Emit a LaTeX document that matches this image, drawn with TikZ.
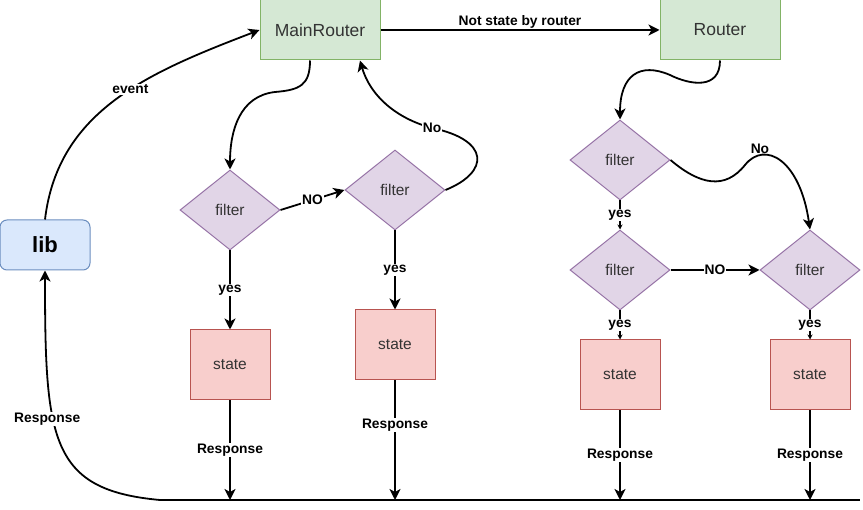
\documentclass[tikz,border=0pt]{standalone}
\usepackage{fontspec}
\setmainfont{Liberation Sans}
\usetikzlibrary{shapes.geometric,arrows.meta}

\definecolor{greenfill}{HTML}{D5E8D4}
\definecolor{greenline}{HTML}{82B366}
\definecolor{bluefill}{HTML}{DAE8FC}
\definecolor{blueline}{HTML}{6C8EBF}
\definecolor{purplefill}{HTML}{E1D5E7}
\definecolor{purpleline}{HTML}{9673A6}
\definecolor{redfill}{HTML}{F8CECC}
\definecolor{redline}{HTML}{B85450}
\definecolor{txtgray}{HTML}{333333}

\begin{document}
\begin{tikzpicture}[x=1pt, y=-1pt,
  router/.style={draw=greenline, fill=greenfill, line width=1pt, minimum width=120pt, minimum height=60pt, text=txtgray, font=\fontsize{17.5}{20}\selectfont},
  libbox/.style={draw=blueline, fill=bluefill, line width=1pt, rounded corners=7pt, minimum width=90pt, minimum height=50pt, font=\fontsize{22}{24}\selectfont\bfseries},
  filterbox/.style={diamond, draw=purpleline, fill=purplefill, line width=1pt, inner sep=0pt, minimum width=100pt, minimum height=80pt, text=txtgray, font=\fontsize{15.5}{18}\selectfont},
  statebox/.style={draw=redline, fill=redfill, line width=1pt, minimum width=80pt, minimum height=70pt, text=txtgray, font=\fontsize{15.5}{18}\selectfont},
  flow/.style={line width=1.8pt, -{Stealth[length=11pt, width=11pt, inset=3pt]}},
  tinyflow/.style={line width=1.8pt, -{Stealth[length=5pt, width=5pt]}},
  lbl/.style={font=\fontsize{13.8}{15}\selectfont\bfseries, fill=white, inner sep=1pt},
  lbltop/.style={lbl, fill=none, above}
]
\useasboundingbox (0,0) rectangle (863,510);

% Routers and lib
\node[router] (mainR) at (320,30) {MainRouter};
\node[router] (router) at (720,30) {Router};
\node[libbox] (lib) at (45,245) {lib};

% Filters
\node[filterbox] (fA) at (230,210) {filter};
\node[filterbox] (fB) at (395,190) {filter};
\node[filterbox] (fC) at (620,160) {filter};
\node[filterbox] (fD) at (620,270) {filter};
\node[filterbox] (fE) at (810,270) {filter};

% States
\node[statebox] (sA) at (230,365) {state};
\node[statebox] (sB) at (395,345) {state};
\node[statebox] (sC) at (620,375) {state};
\node[statebox] (sD) at (810,375) {state};

% Response bus
\coordinate (busL) at (160,500);
\coordinate (busR) at (860,500);
\draw[line width=1.8pt] (busL) -- (busR);

% lib in and out
\draw[flow] (lib.north) .. controls (58,110) and (150,72) .. (mainR.west) node[lbl, pos=0.56] {event};
\draw[flow] (busL) .. controls (50,490) and (45,440) .. (lib.south) node[lbl, pos=0.61, xshift=-6pt] {Response};

% MainRouter side
\draw[flow] ([xshift=-10pt]mainR.south) .. controls (310,85) and (300,90) .. (275,92) .. controls (240,96) and (230,130) .. (fA.north);
\draw[flow] (fA.east) -- (fB.west) node[lbl, midway] {NO};
\draw[flow] (fB.east) .. controls (490,172) and (490,140) .. (432,128) node[lbl] {No} .. controls (395,118) and (370,95) .. ([xshift=40pt]mainR.south);
\draw[flow] (fA.south) -- (sA.north) node[lbl, midway] {yes};
\draw[flow] (fB.south) -- (sB.north) node[lbl, midway] {yes};
\draw[flow] (sA.south) -- (sA.south |- busL) node[lbl, midway] {Response};
\draw[flow] (sB.south) -- (sB.south |- busL) node[lbl, pos=0.37] {Response};

% Router side
\draw[flow] (mainR.east) -- (router.west) node[lbltop, midway] {Not state by router};
\draw[flow] (router.south) .. controls (720,90) and (690,85) .. (670,75) .. controls (640,62) and (620,75) .. (fC.north);
\draw[flow] (fC.east) .. controls (700,185) and (725,190) .. (745,165) .. controls (765,140) and (800,160) .. (fE.north) node[lbltop, pos=0.22] {No};
\draw[tinyflow] (fC.south) -- (fD.north) node[lbl, midway] {yes};
\draw[flow] (fD.east) -- (fE.west) node[lbl, midway] {NO};
\draw[tinyflow] (fD.south) -- (sC.north) node[lbl, midway] {yes};
\draw[tinyflow] (fE.south) -- (sD.north) node[lbl, midway] {yes};
\draw[flow] (sC.south) -- (sC.south |- busL) node[lbl, midway] {Response};
\draw[flow] (sD.south) -- (sD.south |- busL) node[lbl, midway] {Response};

\end{tikzpicture}
\end{document}
